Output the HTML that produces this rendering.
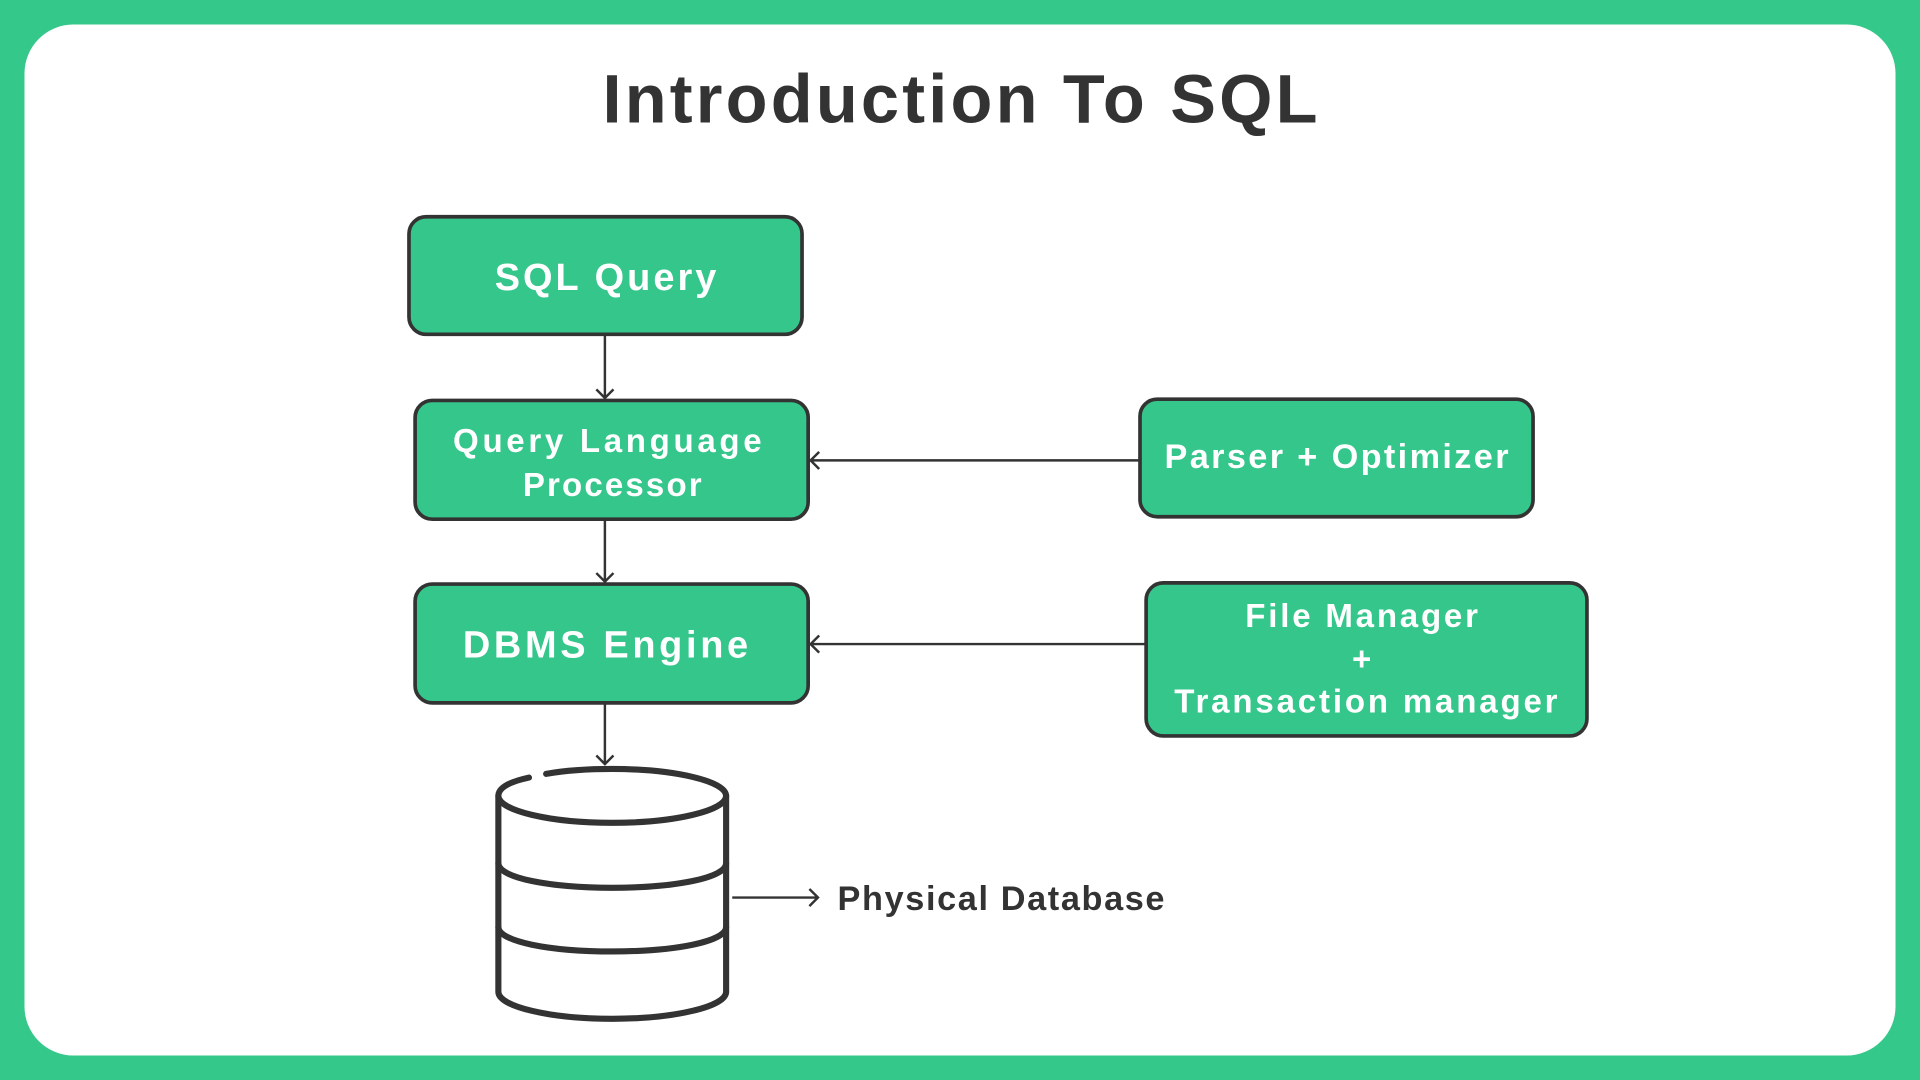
<!DOCTYPE html>
<html><head><meta charset="utf-8"><style>
html,body{margin:0;padding:0;background:#34C88A;}
svg{display:block}
text{font-family:"Liberation Sans",sans-serif;}
</style></head><body>
<svg width="1920" height="1080" viewBox="0 0 1568 882" xmlns="http://www.w3.org/2000/svg">
<rect x="0" y="0" width="1568" height="882" fill="#34C88A"/>
<rect x="20" y="20" width="1528" height="842" rx="40" fill="#fff"/>
<text x="492" y="100" textLength="584" lengthAdjust="spacing" font-size="56" font-weight="bold" fill="#333">Introduction To SQL</text>
<g stroke="#333" stroke-width="3" fill="#35C68B">
<rect x="334" y="177" width="321" height="96" rx="14"/>
<rect x="339" y="327" width="321" height="97" rx="14"/>
<rect x="931" y="326" width="321" height="96" rx="14"/>
<rect x="339" y="477" width="321" height="97" rx="14"/>
<rect x="936" y="476" width="360" height="125" rx="14"/>
</g>
<g fill="#fff" font-weight="bold" lengthAdjust="spacing">
<text x="404" y="237" font-size="31" textLength="181" lengthAdjust="spacing">SQL Query</text>
<text x="370" y="369" font-size="27" textLength="252" lengthAdjust="spacing">Query Language</text>
<text x="427" y="405" font-size="27" textLength="146" lengthAdjust="spacing">Processor</text>
<text x="951" y="382" font-size="28" textLength="281" lengthAdjust="spacing">Parser + Optimizer</text>
<text x="378" y="537" font-size="31" textLength="233" lengthAdjust="spacing">DBMS Engine</text>
<text x="1017" y="512" font-size="27" textLength="190" lengthAdjust="spacing">File Manager</text>
<text x="1112" y="547" font-size="27" text-anchor="middle">+</text>
<text x="959" y="582" font-size="27" textLength="313" lengthAdjust="spacing">Transaction manager</text>
</g>
<g stroke="#333" stroke-width="2" fill="none">
<path d="M494 274V325M487 318L494 325L501 318"/>
<path d="M494 425V475M487 468L494 475L501 468"/>
<path d="M494 575V624M487 617L494 624L501 617"/>
<path d="M930 376H662M669 369L662 376L669 383"/>
<path d="M935 526H662M669 519L662 526L669 533"/>
<path d="M598 733H668M661 726L668 733L661 740"/>
</g>
<g stroke="#333" stroke-width="5" fill="none" stroke-linecap="round">
<path d="M432 635C414 639 407 644 407 650C407 662 449 672 500 672C551 672 593 662 593 650C593 638 551 628 500 628C482 628 463 629 446 632"/>
<path d="M407 650V810C407 822 449 832 500 832C551 832 593 822 593 810V650"/>
<path d="M407 705C407 717 449 725 500 725C551 725 593 717 593 705"/>
<path d="M407 757C407 769 449 777 500 777C551 777 593 769 593 757"/>
</g>
<text x="684" y="743" font-size="28" font-weight="bold" fill="#333" textLength="267" lengthAdjust="spacing">Physical Database</text>
</svg>
</body></html>
